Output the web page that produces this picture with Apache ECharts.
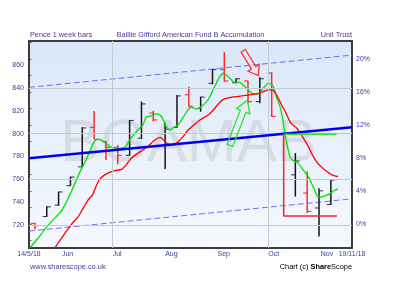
<!DOCTYPE html>
<html><head><meta charset="utf-8">
<script src="https://cdn.jsdelivr.net/npm/echarts@6/dist/echarts.min.js"></script>
<style>html,body{margin:0;padding:0;background:#fff}#c{width:399px;height:303px}</style>
</head><body><div id="c"></div>
<script>
// ---------- data ----------
const startDate = '2018-05-14';
const barDates = ['2018-05-16','2018-05-23','2018-05-30','2018-06-06','2018-06-13','2018-06-20','2018-06-27','2018-07-04','2018-07-11','2018-07-18','2018-07-25','2018-08-01','2018-08-08','2018-08-15','2018-08-22','2018-08-29','2018-09-05','2018-09-12','2018-09-19','2018-09-26','2018-10-03','2018-10-17','2018-10-24','2018-10-31','2018-11-07'];
const barOpen  = [721.5,727.5,737.5,754.5,771,805.5,793,788,781,796,818,800,805.5,834,822,844,856,844.5,846,828,853,764,748,735,738];
const barHigh  = [722,736.5,749.3,762.4,805.6,819.7,793.5,790,812,828,820,809.6,833.7,841,832.3,856.4,871.6,848.4,846.3,849.3,853.6,783,767,752.3,759.6];
const barLow   = [716.5,727,737,754.3,770.7,795.1,777,773.3,780.5,795.4,810.5,769,805.2,823.6,819.2,843.1,845.4,844,826.5,826.5,814.8,745,730.5,710,737.7];
const barClose = [719.5,736,749,762,805,795,788,781,811.5,826,812,804,833,824,832,856,846,848,828,848,815,776,732,750,759.5];

// moving averages: [days since start, pence]
const greenMA = [[-0.9,700.2],[3.8,708.5],[8.5,717.6],[12.7,724.6],[16.8,730.7],[19.8,737.7],[22.7,746.5],[26.3,758.7],[29.2,768.3],[32.2,777],[35.2,787.1],[37.2,793.2],[39,795.1],[41,794.5],[44,791.6],[46.4,788.6],[50.2,787.3],[52.9,787.3],[55.8,788.8],[58.8,796],[62.9,803.2],[65.9,807.6],[67.9,814.6],[70.6,815.4],[73.6,817.2],[75.9,816.3],[77.7,812.8],[79.8,805.9],[81.8,803.2],[83.6,804.9],[86.6,807.6],[89.5,813.7],[92.5,820.7],[94.8,823.3],[97.2,821.5],[100.8,824.2],[104.3,829.4],[107.9,839.9],[110.8,848.6],[113.4,852.8],[116.3,849.8],[119.3,845.4],[123.3,844.6],[126.2,841.1],[130.2,835.3],[134.1,834.7],[137,839.7],[140,844],[141.6,843.4],[142.9,841.1],[144.9,832.3],[146.9,823.6],[148.8,810.5],[149.8,800.4],[150.9,791.6],[152.8,779.9],[154.6,776.6],[157.6,774.2],[160.6,768.3],[163.6,762.4],[166.7,753],[169.4,744.7],[171.7,744.7],[174.1,746],[176.4,747.3],[178.8,750],[181.2,751.7]];
const redMA = [[13.8,700.2],[18.4,710],[19.8,713],[23.3,720.3],[27.6,727.5],[31,736],[33.5,742.1],[36.1,746.5],[38.4,754.8],[40,759.6],[42.8,763.5],[46.4,766.3],[49.3,767.7],[53.2,768.7],[56,772.7],[59,778.5],[62.3,782.3],[65.9,785.8],[68.8,788.8],[72.9,794.5],[76.2,796.7],[78.3,794.1],[80.7,791],[83.6,790.1],[86.6,792.8],[89.5,797.1],[92.5,803.2],[94.9,806.3],[99.6,812],[104.5,816.3],[107.5,820.7],[110.4,825.9],[113.4,829.9],[119.3,832.1],[126.2,833.4],[133.1,834.7],[137,836.7],[140.4,838.2],[142.2,838.2],[144.9,833.8],[147.9,825.1],[150.4,818.1],[153.4,809.1],[156.9,804.7],[159.9,798],[163.2,790.1],[166.1,781.4],[168.8,774.9],[171.7,770.5],[174.7,766.8],[177.6,763.9],[181.2,762.4]];

// axis range (days since start / pence)
const xMin = -1.5, xMax = 189.5;
const yMin = 700, yMax = 881, yStep = 20;
const yLabels = [720,740,760,780,800,820,840,860];
const yGrid = [720,760,800,840];
const pctBase = 721;
const pctLabels = [0,4,8,12,16,20];
const pctTicks = [-2,0,2,4,6,8,10,12,14,16,18,20,22];
const monthDates = ['2018-06-01','2018-07-01','2018-08-01','2018-09-01','2018-10-01','2018-11-01'];
const monthNames = ['Jun','Jul','Aug','Sep','Oct','Nov'];
const quarterDates = ['2018-07-01','2018-10-01'];
const endLabels = ['14/5/18','19/11/18'];

// drawn trend lines [start price, end price] across the chart
const trendMid = [778.5, 805.6];
const channelUp = [840.5, 868.7];
const channelLow = [714.8, 743.0];
// annotations
const greenLevel = [[149.1,799.5],[180.4,799.5]];
const redBracket = [[149.1,799.5],[149.1,727.9],[180.6,727.9]];
const redArrow = [125.2, 872.4, 134.1, 850.8];   // tail -> tip
const greenArrow = [117.3, 789.7, 127.7, 829.4]; // tail -> tip

// ---------- build ----------
const base = Date.UTC(2018,4,14);
const dayOf = s => { const p = s.split('-').map(Number); return (Date.UTC(p[0],p[1]-1,p[2]) - base) / 864e5; };
const barData = barDates.map((d,i) => [dayOf(d), barOpen[i], barHigh[i], barLow[i], barClose[i]]);
const monthDays = monthDates.map(dayOf);
const pct = v => (v / pctBase - 1) * 100;

const FONT = '"Liberation Sans", Arial, sans-serif';
const LBL = '#3d3d9e';

function renderBar(params, api) {
  const x = api.value(0), o = api.value(1), h = api.value(2), l = api.value(3), c = api.value(4);
  const pH = api.coord([x,h]), pL = api.coord([x,l]), pO = api.coord([x,o]), pC = api.coord([x,c]);
  const col = c < o ? '#ff2a2a' : '#151515';
  const tcol = c < o ? '#ff2a2a' : '#3a3a5a';
  const t = 4;
  return {type:'group', children:[
    {type:'line', shape:{x1:pH[0],y1:pH[1],x2:pL[0],y2:pL[1]}, style:{stroke:col,lineWidth:1.5}},
    {type:'line', shape:{x1:pO[0]-t,y1:pO[1],x2:pO[0],y2:pO[1]}, style:{stroke:tcol,lineWidth:1.1}},
    {type:'line', shape:{x1:pC[0],y1:pC[1],x2:pC[0]+t,y2:pC[1]}, style:{stroke:tcol,lineWidth:1.1}}
  ]};
}
function arrowRenderer(color, shaftW, headW, headL) {
  return function(params, api) {
    const a = api.coord([api.value(0), api.value(1)]);
    const b = api.coord([api.value(2), api.value(3)]);
    const dx = b[0]-a[0], dy = b[1]-a[1], len = Math.hypot(dx,dy);
    const ux = dx/len, uy = dy/len, nx = -uy, ny = ux;
    const kx = b[0]-ux*headL, ky = b[1]-uy*headL;
    const s = shaftW/2, h = headW/2;
    const pts = [
      [a[0]+nx*s, a[1]+ny*s],[kx+nx*s, ky+ny*s],[kx+nx*h, ky+ny*h],[b[0],b[1]],
      [kx-nx*h, ky-ny*h],[kx-nx*s, ky-ny*s],[a[0]-nx*s, a[1]-ny*s]
    ];
    return {type:'polygon', shape:{points:pts}, style:{fill:'rgba(255,255,255,0)', stroke:color, lineWidth:1.3}};
  };
}

const chart = echarts.init(document.getElementById('c'), null, {renderer:'canvas'});
const gridLineData = yGrid.map(v => ({yAxis:v})).concat(quarterDates.map(d => ({xAxis:dayOf(d)})));

chart.setOption({
  animation:false,
  grid:{left:29, right:47, top:41, bottom:55, show:true,
    backgroundColor: new echarts.graphic.LinearGradient(0,0,0,1,[{offset:0,color:'#dae7f8'},{offset:1,color:'#f6f9fe'}]),
    borderColor:'#3c3c3c', borderWidth:2, z:0},
  xAxis:[
    {type:'value', min:xMin, max:xMax, position:'bottom',
     axisLine:{show:false}, axisTick:{show:false}, splitLine:{show:false},
     axisLabel:{customValues:monthDays, formatter:v => monthNames[monthDays.indexOf(v)] || '', align:'left',
       margin:3, fontSize:7, color:LBL, fontFamily:FONT}},
    {type:'value', min:xMin, max:xMax, position:'bottom',
     axisLine:{show:false}, axisTick:{show:false}, splitLine:{show:false},
     axisLabel:{customValues:[xMin,xMax], showMinLabel:true, showMaxLabel:true,
       formatter:v => v === xMin ? endLabels[0] : (v === xMax ? endLabels[1] : ''), align:'center',
       margin:3, fontSize:7, color:LBL, fontFamily:FONT}}
  ],
  yAxis:[
    {type:'value', min:yMin, max:yMax, interval:yStep, position:'left',
     axisLine:{show:false}, axisTick:{show:false}, splitLine:{show:false},
     axisLabel:{formatter:v => yLabels.indexOf(v) >= 0 ? String(v) : '', margin:5, fontSize:7, color:LBL, fontFamily:FONT}},
    {type:'value', min:pct(yMin), max:pct(yMax), position:'right',
     axisLine:{show:false}, splitLine:{show:false},
     axisTick:{show:true, inside:true, length:2, customValues:pctTicks, lineStyle:{color:'#666'}},
     axisLabel:{customValues:pctLabels, formatter:v => v + '%', margin:4, fontSize:7, color:LBL, fontFamily:FONT}}
  ],
  graphic:[
    {type:'text', x:188.5, y:144, z:1, silent:true, style:{text:'BGAMAB', font:'60px ' + FONT, fill:'rgba(120,120,120,0.16)', textAlign:'center', textVerticalAlign:'middle'}},
    {type:'text', x:30, y:35, style:{text:'Pence 1 week bars', font:'7.3px ' + FONT, fill:LBL, textAlign:'left', textVerticalAlign:'middle'}},
    {type:'text', x:190.5, y:35, style:{text:'Baillie Gifford American Fund B Accumulation', font:'7.3px ' + FONT, fill:LBL, textAlign:'center', textVerticalAlign:'middle'}},
    {type:'text', x:352, y:35, style:{text:'Unit Trust', font:'7.3px ' + FONT, fill:LBL, textAlign:'right', textVerticalAlign:'middle'}},
    {type:'text', x:30, y:267, style:{text:'www.sharescope.co.uk', font:'7.4px ' + FONT, fill:LBL, textAlign:'left', textVerticalAlign:'middle'}},
    {type:'text', x:352, y:267, style:{text:'{a|Chart (c) }{b|Share}{c|Scope}', textAlign:'right', textVerticalAlign:'middle',
      rich:{a:{fontSize:7.4, fontFamily:FONT, color:'#333'}, b:{fontSize:7.4, fontFamily:FONT, fontWeight:'bold', color:'#2a2ab8'}, c:{fontSize:7.4, fontFamily:FONT, color:'#4040c0'}}}}
  ],
  series:[
    {type:'line', data:[], z:1, silent:true,
     markLine:{silent:true, symbol:'none', label:{show:false}, lineStyle:{color:'#c4c8d0', width:1, type:'solid'}, data:gridLineData}},
    {type:'line', name:'upper', data:[[xMin,channelUp[0]],[xMax,channelUp[1]]], symbol:'none', z:2,
     lineStyle:{color:'#6f6ff5', width:1, type:[6,3]}},
    {type:'line', name:'lower', data:[[xMin,channelLow[0]],[xMax,channelLow[1]]], symbol:'none', z:2,
     lineStyle:{color:'#6f6ff5', width:1, type:[6,3]}},
    {type:'custom', name:'bars', data:barData, renderItem:renderBar, encode:{x:0, y:[1,2,3,4]}, z:3, clip:true},
    {type:'line', name:'green', data:greenMA, symbol:'none', smooth:0.2, z:4, clip:true, lineStyle:{color:'#00e000', width:1.3}},
    {type:'line', name:'red', data:redMA, symbol:'none', smooth:0.2, z:4, clip:true, lineStyle:{color:'#ff0000', width:1.3}},
    {type:'line', name:'trend', data:[[xMin,trendMid[0]],[xMax,trendMid[1]]], symbol:'none', z:5, lineStyle:{color:'#0000f0', width:2.5}},
    {type:'line', name:'gLevel', data:greenLevel, symbol:'none', z:6, lineStyle:{color:'#33dd33', width:1.5}},
    {type:'line', name:'rBracket', data:redBracket, symbol:'none', z:6, lineStyle:{color:'#ff2020', width:1.5}},
    {type:'custom', name:'rArrow', data:[redArrow], renderItem:arrowRenderer('#ff3030',5,13,9), encode:{x:[0,2], y:[1,3]}, z:6},
    {type:'custom', name:'gArrow', data:[greenArrow], renderItem:arrowRenderer('#33dd33',6,14,12), encode:{x:[0,2], y:[1,3]}, z:6}
  ]
});
</script></body></html>
